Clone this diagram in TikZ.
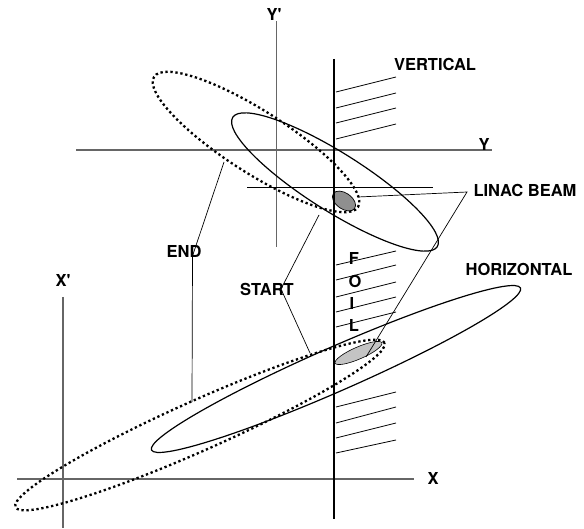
\documentclass[tikz,border=0pt]{standalone}
\usepackage{fontspec}
\setmainfont{TeX Gyre Heros}
\definecolor{axisgray}{HTML}{666666}
\definecolor{beamdark}{HTML}{8F8F8F}
\definecolor{beamlight}{HTML}{C4C4C4}
\begin{document}
\begin{tikzpicture}[x=1pt,y=-1pt,
  lbl/.style={font=\fontsize{16.5}{18}\selectfont\bfseries, inner sep=0pt},
  axisline/.style={draw=axisgray, line width=1.3pt},
  conn/.style={line width=0.7pt},
  hatchline/.style={line width=0.8pt},
  foilline/.style={line width=2.4pt},
  solidell/.style={line width=1.2pt},
  dotell/.style={line width=2.3pt, dash pattern=on 2.3pt off 2.7pt},
]
\useasboundingbox (0,0) rectangle (584,529);

% ---- axes ----
\coordinate (yl) at (76,150);   \coordinate (yr) at (492,150);
\coordinate (ypt) at (276.5,21); \coordinate (ypb) at (276.5,247);
\coordinate (xl) at (17,479);   \coordinate (xr) at (414,479);
\coordinate (xpt) at (63,297);  \coordinate (xpb) at (63,528);
\coordinate (hl) at (247,187);  \coordinate (hr) at (433,187);
\draw[axisline] (yl) -- (yr);
\draw[axisline] (ypt) -- (ypb);
\draw[axisline] (xl) -- (xr);
\draw[axisline] (xpt) -- (xpb);
\draw[conn] (hl) -- (hr);

% ---- hatching ----
\foreach \a/\b in {92/77,108/93,123/108,139/124,
                   265/251,280/265,297/282,312/297,327/312,
                   407/392,423/407,438/423,453/440}
  \draw[hatchline] (336,\a) -- (396,\b);

% ---- vertical phase-space ellipses ----
\draw[dotell, shift={(256,142)}, rotate=-32.6] (0,0) ellipse [x radius=121pt, y radius=31pt];
\draw[solidell, shift={(335,182)}, rotate=-32.3] (0,0) ellipse [x radius=121pt, y radius=29pt];
\draw[line width=0.7pt, fill=beamdark, shift={(344,201)}, rotate=-35] (0,0) ellipse [x radius=13pt, y radius=8pt];

% ---- horizontal phase-space ellipses ----
\draw[dotell, shift={(200,425)}, rotate=24] (0,0) ellipse [x radius=202pt, y radius=25pt];
\draw[solidell, shift={(336,369)}, rotate=23.7] (0,0) ellipse [x radius=201.5pt, y radius=22pt];
\draw[line width=0.6pt, fill=beamlight, shift={(358.5,353)}, rotate=23.5] (0,0) ellipse [x radius=25.5pt, y radius=6pt];

% ---- foil ----
\coordinate (ft) at (334,59); \coordinate (fb) at (334,519);
\draw[foilline] (ft) -- (fb);

% ---- labels ----
\node[lbl] (lYp) at (274,14) {Y\textquotesingle};
\node[lbl] (lY) at (484,144) {Y};
\node[lbl] (lVert) at (435,64) {VERTICAL};
\node[lbl] (lLinac) at (525,190) {LINAC BEAM};
\node[lbl] (lEnd) at (184,251) {END};
\node[lbl] (lStart) at (267,289) {START};
\node[lbl] (lXp) at (63,280) {X\textquotesingle};
\node[lbl] (lHor) at (519,269) {HORIZONTAL};
\node[lbl] (lX) at (433,478) {X};
\node[lbl] (fF) at (354,258) {F};
\node[lbl] (fO) at (355,281) {O};
\node[lbl] (fI) at (352,303) {I};
\node[lbl] (fL) at (354,325) {L};

% ---- connectors ----
\coordinate (endApex) at (192.5,256);
\coordinate (endV) at (224,162);
\coordinate (endH) at (192,402);
\draw[conn] (endV) -- (endApex) -- (endH);

\coordinate (startApex) at (281,289);
\coordinate (startV) at (319,215);
\coordinate (startH) at (310,353);
\draw[conn] (startV) -- (startApex) -- (startH);

\coordinate (linacApex) at (467,192);
\coordinate (linacV) at (358,197);
\coordinate (linacH) at (366,357);
\draw[conn] (linacV) -- (linacApex) -- (linacH);
\end{tikzpicture}
\end{document}
